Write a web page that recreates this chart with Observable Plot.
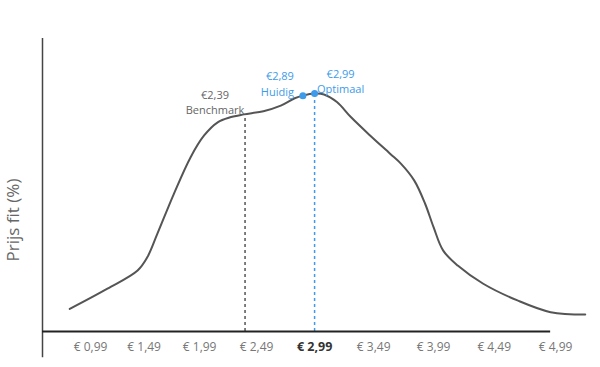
<!DOCTYPE html>
<html><head><meta charset="utf-8">
<script src="https://cdn.jsdelivr.net/npm/d3@7"></script>
<script src="https://cdn.jsdelivr.net/npm/@observablehq/plot@0.6"></script>
<style>body{margin:0;background:#fff}</style>
</head><body><div id="chart"></div>
<script>
// Curve: price (€) vs price fit (%)
const prices = [0.79,1.15,1.43,1.52,1.61,1.76,1.91,2.03,2.15,2.26,2.38,2.55,2.70,2.82,2.89,2.99,3.07,3.18,3.30,3.46,3.63,3.72,3.83,3.92,3.99,4.07,4.19,4.40,4.68,4.95,5.23];
const fit    = [7.7,14.6,20.8,25.4,33.3,47.0,59.5,66.9,71.4,73.1,74.1,75.2,77.1,79.6,80.5,81.2,80.9,78.3,73.1,66.9,60.6,57.2,51.5,43.6,35.6,27.6,22.5,16.3,10.6,6.6,5.8];

const tickValues = [0.99,1.49,1.99,2.49,2.99,3.49,3.99,4.49,4.99];
const tickLabels = ["€ 0,99","€ 1,49","€ 1,99","€ 2,49","€ 2,99","€ 3,49","€ 3,99","€ 4,49","€ 4,99"];
const highlightTick = 2.99;

const markerNames  = ["Benchmark","Huidig","Optimaal"];
const markerPrices = [2.39, 2.89, 2.99];
const markerFits   = [74.1, 80.5, 81.2];
const markerLabels = ["€2,39","€2,89","€2,99"];

const yLabel = "Prijs fit (%)";
const xDomain = [0.519, 5.353];
const axisEnd = 4.95;

const curve = prices.map((p, i) => ({price: p, fit: fit[i]}));
const markers = markerNames.map((n, i) => ({name: n, price: markerPrices[i], fit: markerFits[i], label: markerLabels[i] + "\n" + n}));
const fmt = v => tickLabels[tickValues.indexOf(v)];
const blue = "#3d9be9";

const chart = Plot.plot({
  width: 600, height: 367,
  marginLeft: 42, marginRight: 0, marginTop: 38, marginBottom: 36,
  style: {fontFamily: "'Open Sans', sans-serif", background: "#fff"},
  x: {type: "pow", exponent: 1.1, domain: xDomain, axis: null},
  y: {domain: [0, 100], axis: null},
  marks: [
    Plot.ruleX([xDomain[0]], {y1: -9, y2: 100, stroke: "#444", strokeWidth: 1.5}),
    Plot.ruleX([markers[0]], {x: "price", y1: 0, y2: "fit", stroke: "#555", strokeWidth: 1.5, strokeDasharray: "3,3"}),
    Plot.ruleX([markers[2]], {x: "price", y1: 0, y2: "fit", stroke: blue, strokeWidth: 1.5, strokeDasharray: "3,3"}),
    Plot.ruleY([0], {x1: xDomain[0], x2: axisEnd, stroke: "#222", strokeWidth: 2}),
    Plot.line(curve, {x: "price", y: "fit", curve: "catmull-rom", stroke: "#555", strokeWidth: 2}),
    Plot.dot(markers.slice(1), {x: "price", y: "fit", r: 3.5, fill: blue}),
    Plot.text([markers[0]], {x: "price", y: "fit", text: "label", textAnchor: "middle", lineAnchor: "bottom", dx: -30, dy: 0, fill: "#666", fontSize: 11, lineHeight: 1.36}),
    Plot.text([markers[1]], {x: "price", y: "fit", text: "label", textAnchor: "end", lineAnchor: "bottom", dx: -9, dy: 0, fill: blue, fontSize: 11, lineHeight: 1.4}),
    Plot.text([markers[2]], {x: "price", y: "fit", text: "label", textAnchor: "middle", lineAnchor: "bottom", dx: 26, dy: -1, fill: blue, fontSize: 11, lineHeight: 1.36}),
    Plot.axisX(tickValues.filter(v => v !== highlightTick), {tickSize: 0, tickPadding: 11, tickFormat: fmt, fill: "#777", fontSize: 12, label: null}),
    Plot.axisX([highlightTick], {tickSize: 0, tickPadding: 11, tickFormat: fmt, fill: "#333", fontSize: 12.5, fontWeight: "bold", label: null}),
    Plot.text([yLabel], {frameAnchor: "left", dx: -29, dy: 35, rotate: -90, fontSize: 17, fill: "#666", textAnchor: "middle", lineAnchor: "middle"})
  ]
});
document.getElementById("chart").append(chart);
</script>
</body></html>
